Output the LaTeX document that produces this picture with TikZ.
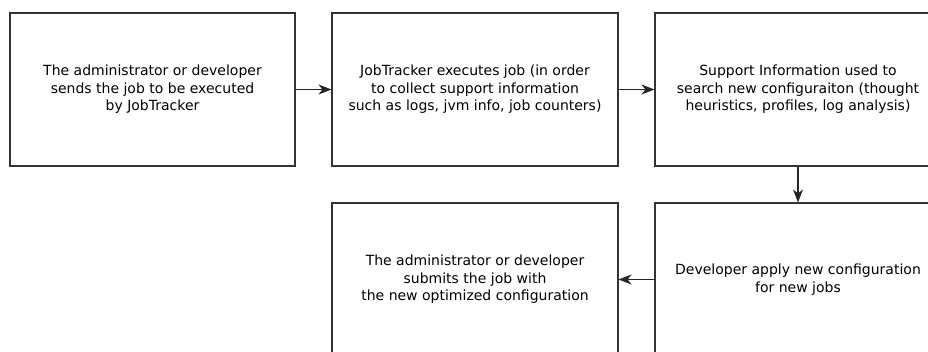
\documentclass[tikz,border=0pt]{standalone}
\usepackage{fontspec}
\setmainfont{DejaVu Sans}
\usetikzlibrary{arrows.meta}
\begin{document}
\begin{tikzpicture}[x=1pt,y=1pt,
  stepbox/.style={draw=black!80, line width=1.1pt, fill=white, minimum width=286pt, minimum height=153pt, inner sep=0pt, align=center, font=\fontsize{14}{17.5}\selectfont, text=black},
  conn/.style={draw=black!85, line width=1.1pt, -{Stealth[length=13pt,width=10pt,inset=4pt]}}]
\useasboundingbox (0,0) rectangle (928,-352);
\node[stepbox, minimum width=285pt] (a) at (152.5,-89.5) {The administrator or developer\\sends the job to be executed\\by JobTracker};
\node[stepbox] (b) at (475,-89.5) {JobTracker executes job (in order\\to collect support information\\such as logs, jvm info, job counters)};
\node[stepbox] (c) at (798,-89.5) {Support Information used to\\search new configuraiton (thought\\heuristics, profiles, log analysis)};
\node[stepbox] (e) at (798,-279.5) {Developer apply new configuration\\for new jobs};
\node[stepbox] (d) at (475,-279.5) {The administrator or developer\\submits the job with\\the new optimized configuration};
\draw[conn] (a) -- (b);
\draw[conn] (b) -- (c);
\draw[conn] (c) -- (e);
\draw[conn] (e) -- (d);
\end{tikzpicture}
\end{document}
